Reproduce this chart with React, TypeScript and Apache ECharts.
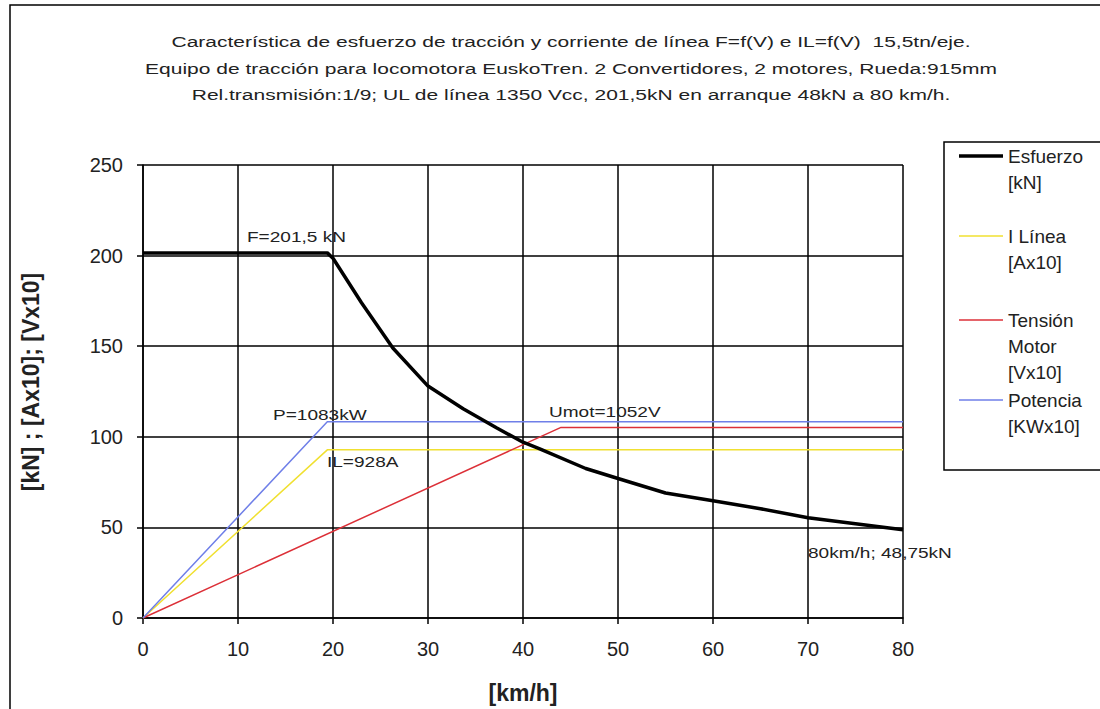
import React, { useEffect, useRef } from "react";
import * as echarts from "echarts";

const FONT = "'Liberation Sans', Arial, sans-serif";

const titleLines = [
  "Característica de esfuerzo de tracción y corriente de línea F=f(V) e IL=f(V)  15,5tn/eje.",
  "Equipo de tracción para locomotora EuskoTren. 2 Convertidores, 2 motores, Rueda:915mm",
  "Rel.transmisión:1/9; UL de línea 1350 Vcc, 201,5kN en arranque 48kN a 80 km/h.",
];

const xTicks = { min: 0, max: 80, interval: 10 };
const yTicks = { min: 0, max: 250, interval: 50 };

const esfuerzo: [number, number][] = [
  [0, 201.5], [19.4, 201.5], [20, 198.5], [23, 174], [26.3, 149], [30, 128],
  [33.7, 115.5], [37.2, 105], [40, 97], [41.7, 93.5], [46.6, 82.5], [50, 77],
  [55, 69], [60, 64.7], [65, 60.3], [70, 55.3], [75, 52], [80, 48.75],
];
const iLinea: [number, number][] = [[0, 0], [19.4, 92.8], [80, 92.8]];
const tensionMotor: [number, number][] = [[0, 0], [44, 105.2], [80, 105.2]];
const potencia: [number, number][] = [[0, 0], [19.4, 108.3], [80, 108.3]];

const seriesNames = ["Esfuerzo", "I Línea", "Tensión Motor", "Potencia"];
const legendLines = [["Esfuerzo", "[kN]"], ["I Línea", "[Ax10]"], ["Tensión", "Motor", "[Vx10]"], ["Potencia", "[KWx10]"]];
const legendFirstLineY = [156, 236, 320, 400];
const colors = ["#000000", "#f0e030", "#dc3038", "#6f7fe8"];
const widths = [3.5, 1.5, 1.5, 1.5];

const annotations = [
  { text: "F=201,5 kN", x: 247, y: 237 },
  { text: "P=1083kW", x: 273, y: 415 },
  { text: "Umot=1052V", x: 549, y: 412 },
  { text: "IL=928A", x: 327, y: 462 },
  { text: "80km/h; 48,75kN", x: 808, y: 553 },
];

export default function App() {
  const ref = useRef<HTMLDivElement>(null);
  useEffect(() => {
    if (!ref.current) return;
    const chart = echarts.init(ref.current, undefined, { renderer: "svg" });
    const LH = 26;
    const legends = seriesNames.map((name, i) => {
      const lines = legendLines[i];
      const n = lines.length;
      const label = Array(n - 1).fill("").concat(lines).join("\n");
      return {
        show: true,
        orient: "vertical",
        left: 959,
        top: legendFirstLineY[i] - LH / 2 - (n - 1) * LH,
        padding: 0,
        icon: "rect",
        itemWidth: 44,
        itemHeight: widths[i],
        itemGap: 5,
        data: [name],
        selectedMode: false,
        formatter: () => label,
        textStyle: {
          fontFamily: FONT,
          fontSize: 19,
          color: "#222",
          lineHeight: LH,
        },
      };
    });
    const graphics: any[] = [
      {
        type: "rect",
        shape: { x: 10, y: 5, width: 1100, height: 720 },
        style: { fill: "none", stroke: "#000", lineWidth: 1.5 },
        silent: true,
      },
      {
        type: "rect",
        shape: { x: 944, y: 142, width: 160, height: 328 },
        style: { fill: "#fff", stroke: "#000", lineWidth: 1.5 },
        silent: true,
        z: -1,
      },
      ...titleLines.map((t, i) => ({
        type: "text",
        x: 571,
        y: 42 + i * 26.5,
        scaleX: 1.4,
        style: { text: t, fontFamily: FONT, fontSize: 15, fill: "#222", align: "center", verticalAlign: "middle" },
      })),
      ...annotations.map((a) => ({
        type: "text",
        x: a.x,
        y: a.y,
        scaleX: 1.27,
        style: { text: a.text, fontFamily: FONT, fontSize: 15, fill: "#222", align: "left", verticalAlign: "middle" },
        z: 10,
      })),
    ];
    chart.setOption({
      animation: false,
      backgroundColor: "#fff",
      grid: { left: 143, right: 197, top: 165, bottom: 91, outerBoundsMode: "none", containLabel: false },
      legend: legends,
      xAxis: {
        type: "value",
        min: xTicks.min,
        max: xTicks.max,
        interval: xTicks.interval,
        name: "[km/h]",
        nameLocation: "middle",
        nameGap: 63,
        nameTextStyle: { fontFamily: FONT, fontSize: 23, fontWeight: "bold", color: "#222" },
        axisLine: { lineStyle: { color: "#000", width: 1.5 } },
        axisTick: { show: true, length: 6, lineStyle: { color: "#000", width: 1.5 } },
        axisLabel: { fontFamily: FONT, fontSize: 20, color: "#222", margin: 21 },
        splitLine: { show: true, lineStyle: { color: "#000", width: 1.5 } },
      },
      yAxis: {
        type: "value",
        min: yTicks.min,
        max: yTicks.max,
        interval: yTicks.interval,
        name: "[kN] ; [Ax10]; [Vx10]",
        nameLocation: "middle",
        nameGap: 101,
        nameTextStyle: { fontFamily: FONT, fontSize: 23, fontWeight: "bold", color: "#222", padding: [0, 0, 0, 19] },
        axisLine: { show: true, lineStyle: { color: "#000", width: 1.5 } },
        axisTick: { show: true, length: 6, lineStyle: { color: "#000", width: 1.5 } },
        axisLabel: { fontFamily: FONT, fontSize: 20, color: "#222", margin: 20 },
        splitLine: { show: true, lineStyle: { color: "#000", width: 1.5 } },
      },
      series: [
        { name: seriesNames[0], type: "line", data: esfuerzo, symbol: "none", color: colors[0], lineStyle: { width: widths[0], color: colors[0] }, z: 5 },
        { name: seriesNames[1], type: "line", data: iLinea, symbol: "none", color: colors[1], lineStyle: { width: widths[1], color: colors[1] }, z: 3 },
        { name: seriesNames[2], type: "line", data: tensionMotor, symbol: "none", color: colors[2], lineStyle: { width: widths[2], color: colors[2] }, z: 3 },
        { name: seriesNames[3], type: "line", data: potencia, symbol: "none", color: colors[3], lineStyle: { width: widths[3], color: colors[3] }, z: 3 },
      ],
      graphic: graphics,
    });
    return () => chart.dispose();
  }, []);
  return <div ref={ref} style={{ position: "fixed", left: 0, top: 0, width: 1100, height: 709 }} />;
}
